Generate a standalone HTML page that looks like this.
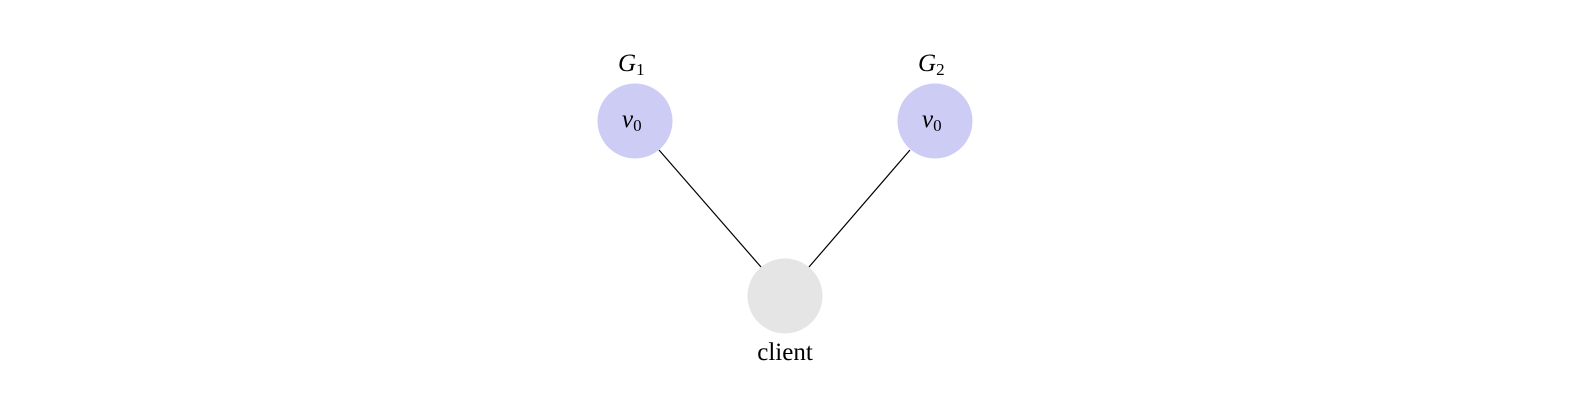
<!DOCTYPE html>
<html><head><meta charset="utf-8"><style>
html,body{margin:0;padding:0;background:#fff;}
</style></head><body>
<svg width="1580" height="418" xmlns="http://www.w3.org/2000/svg" style="display:block">
<line x1="659" y1="150" x2="761" y2="267" stroke="#000" stroke-width="1.2"/>
<line x1="910" y1="150" x2="809" y2="267" stroke="#000" stroke-width="1.2"/>
<circle cx="635" cy="121" r="37.5" fill="#ccccf5"/>
<circle cx="935" cy="121" r="37.5" fill="#ccccf5"/>
<circle cx="785" cy="296" r="37.5" fill="#e5e5e5"/>
<g font-family="Liberation Serif, serif" fill="#000">
<text x="618" y="71" font-size="25" font-style="italic">G<tspan font-style="normal" font-size="17" dy="4">1</tspan></text>
<text x="918" y="71" font-size="25" font-style="italic">G<tspan font-style="normal" font-size="17" dy="4">2</tspan></text>
<text x="622" y="127" font-size="25" font-style="italic">v<tspan font-style="normal" font-size="17" dy="4">0</tspan></text>
<text x="922" y="127" font-size="25" font-style="italic">v<tspan font-style="normal" font-size="17" dy="4">0</tspan></text>
<text x="785" y="360" font-size="25" text-anchor="middle">client</text>
</g>
</svg>
</body></html>
